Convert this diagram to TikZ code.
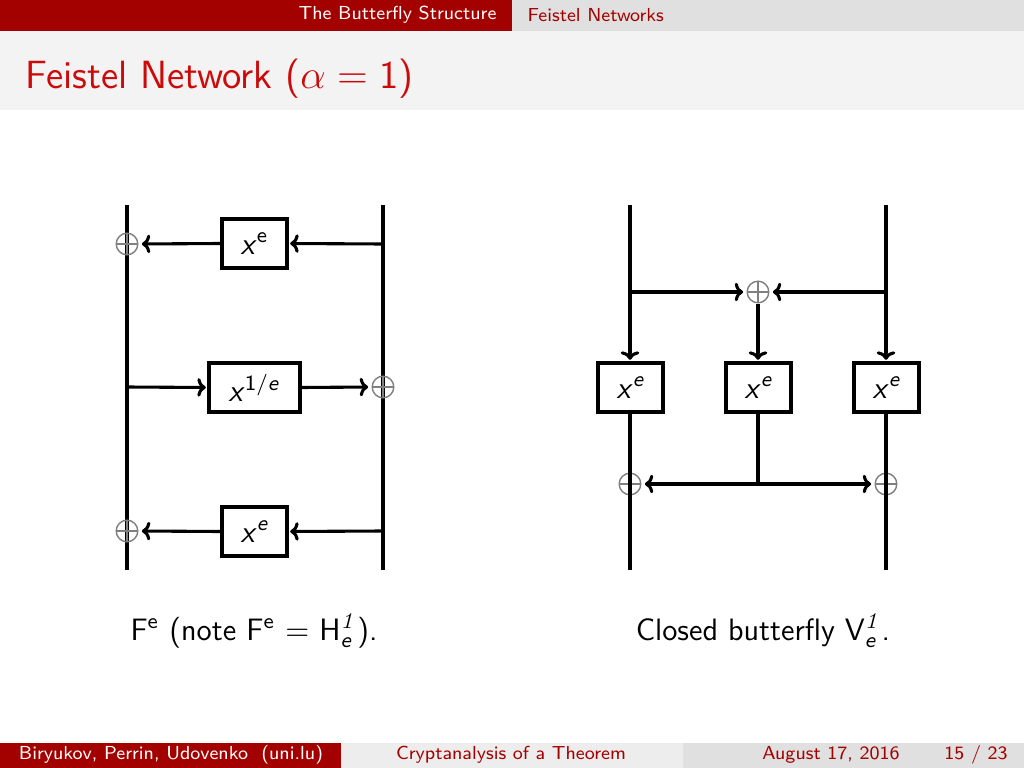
\documentclass[tikz,border=0pt]{standalone}
\usepackage{amsmath}
\usetikzlibrary{arrows.meta}
\definecolor{bred}{HTML}{A30000}
\definecolor{tred}{HTML}{CC0A0A}
\definecolor{hgray}{HTML}{E0E0E0}
\definecolor{tgray}{HTML}{F3F3F3}
\definecolor{mgray}{HTML}{EDEDED}
\newcommand{\myx}{\text{\textsl{x}}}
\begin{document}
\begin{tikzpicture}[x=0.125mm,y=-0.125mm,font=\sffamily\fontsize{11}{13}\selectfont,
  wire/.style={line width=1.1pt},
  arr/.style={line width=1.1pt,shorten >=0.6pt,-{Computer Modern Rightarrow[length=3pt,width=6.6pt,line width=1.1pt]}},
  toxor/.style={arr,shorten >=1.2pt},
  fnbox/.style={draw,line width=1.1pt,minimum width=8.125mm,minimum height=6.125mm,inner sep=0pt},
  widebox/.style={fnbox,minimum width=11.375mm},
  oplus/.style={circle,draw=black!50,line width=0.5pt,minimum size=2.7mm,inner sep=0pt,
    path picture={\draw[black!50,line width=0.5pt]
      (path picture bounding box.north) -- (path picture bounding box.south)
      (path picture bounding box.west) -- (path picture bounding box.east);}},
  hdr/.style={inner sep=0pt,font=\sffamily\fontsize{6.7}{8}\selectfont}]
\useasboundingbox (0,0) rectangle (1024,768);
% header
\fill[bred] (0,0) rectangle (512,31);
\fill[hgray] (512,0) rectangle (1024,31);
\fill[tgray] (0,31) rectangle (1024,110);
\node[hdr,anchor=east,text=white] (h1) at (497,15) {The Butterfly Structure};
\node[hdr,anchor=west,text=bred] (h2) at (527,15) {Feistel Networks};
\node[anchor=base west,inner sep=0pt,text=tred,font=\sffamily\fontsize{14}{17}\selectfont] (title) at (25,88) {Feistel Network ($\alpha = \text{1}$)};
% footer
\fill[bred] (0,743) rectangle (341,768);
\fill[mgray] (341,743) rectangle (683,768);
\fill[hgray] (683,743) rectangle (1024,768);
\node[hdr,text=white] (f1) at (171,755) {Biryukov, Perrin, Udovenko\ \ (uni.lu)};
\node[hdr,text=bred] (f2) at (511,755) {Cryptanalysis of a Theorem};
\node[hdr,text=bred] (f3) at (831,755) {August 17, 2016};
\node[hdr,text=bred] (f4) at (976,755) {15 / 23};
% ---------- left diagram ----------
\coordinate (Lt) at (127,205); \coordinate (Lb) at (127,570);
\coordinate (Rt) at (383,205); \coordinate (Rb) at (383,570);
\draw[wire] (Lt) -- (Lb);
\draw[wire] (Rt) -- (Rb);
\node[fnbox,fill=white] (b1) at (254.5,243.5) {$\myx^{\text{e}}$};
\node[oplus] (o1) at (127,244) {};
\coordinate (r1) at (383,244);
\draw[arr] (r1) -- (b1.east);
\draw[toxor] (b1.west) -- (o1.east);
\node[widebox,fill=white] (b2) at (254.5,387.5) {$\myx^{\text{1/\textsl{e}}}$};
\coordinate (l2) at (127,387);
\node[oplus] (o2) at (383,387) {};
\draw[arr] (l2) -- (b2.west);
\draw[toxor] (b2.east) -- (o2.west);
\node[fnbox,fill=white] (b3) at (254.5,531.5) {$\myx^{\textsl{e}}$};
\node[oplus] (o3) at (127,531) {};
\coordinate (r3) at (383,531);
\draw[arr] (r3) -- (b3.east);
\draw[toxor] (b3.west) -- (o3.east);
% ---------- right diagram ----------
\node[fnbox] (c1) at (630.5,387.5) {$\myx^{\textsl{e}}$};
\node[fnbox] (c2) at (758.5,387.5) {$\myx^{\textsl{e}}$};
\node[fnbox] (c3) at (886.5,387.5) {$\myx^{\textsl{e}}$};
\coordinate (t1) at (630,205); \coordinate (t3) at (886,205);
\coordinate (e1) at (630,570); \coordinate (e3) at (886,570);
\coordinate (s1) at (630,292); \coordinate (s3) at (886,292);
\node[oplus] (o4) at (758,292) {};
\draw[arr] (t1) -- (t1 |- c1.north);
\draw[arr] (t3) -- (t3 |- c3.north);
\draw[toxor] (s1) -- (o4.west);
\draw[toxor] (s3) -- (o4.east);
\draw[arr] (o4.south) -- (o4 |- c2.north);
\node[oplus] (o5) at (630,484) {};
\node[oplus] (o6) at (886,484) {};
\coordinate (m) at (758,484);
\draw[wire] (t1 |- c1.south) -- (e1);
\draw[wire] (t3 |- c3.south) -- (e3);
\draw[wire] (m |- c2.south) -- (m);
\draw[toxor] (m) -- (o5.east);
\draw[toxor] (m) -- (o6.west);
% captions
\node[anchor=base] (cap1) at (254,640) {F$^{\text{e}}$ (note F$^{\text{e}}$ $=$ H$^{\mathit{1}}_{\textsl{e}}$).};
\node[anchor=base] (cap2) at (763,640) {Closed butterfly V$^{\mathit{1}}_{\textsl{e}}$.};
\end{tikzpicture}
\end{document}
